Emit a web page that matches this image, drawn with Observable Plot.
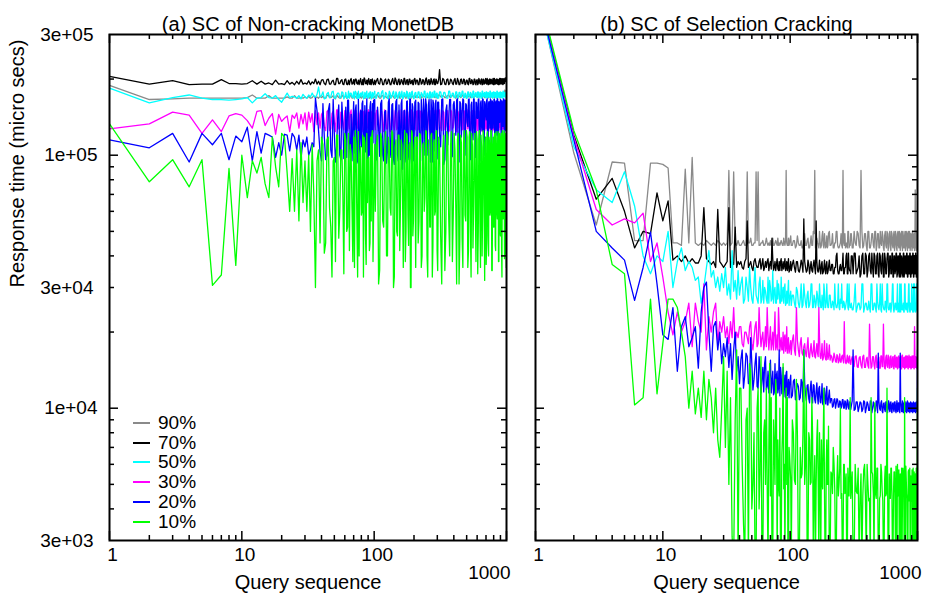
<!DOCTYPE html>
<html><head><meta charset="utf-8">
<script src="https://cdn.jsdelivr.net/npm/d3@7"></script>
<script src="https://cdn.jsdelivr.net/npm/@observablehq/plot@0.6"></script>
<style>
html,body{margin:0;padding:0;background:#fff;}
#wrap{position:relative;width:925px;height:600px;font-family:"Liberation Sans",Arial,Helvetica,sans-serif;background:#fff;}
#wrap svg{position:absolute;top:0;}
.lg{position:absolute;font-size:19px;line-height:20px;color:#000;white-space:nowrap;}
.ls{position:absolute;width:17px;height:2px;}
</style></head><body><div id="wrap"></div>
<script>
// Query sequence numbers (x) shared by every series
const queries = [
  1,2,3,4,5,6,7,8,9,10,
  11,12,13,14,15,16,17,18,19,20,
  21,22,23,24,25,26,27,28,29,30,
  31,32,33,34,35,36,37,38,39,40,
  42,44,46,48,50,52,54,56,58,60,
  63,66,69,72,75,78,81,84,87,90,
  93,96,99,104,108,112,116,120,124,128,
  132,136,140,144,148,152,156,160,164,168,
  172,176,180,184,188,192,196,200,206,212,
  218,224,230,236,242,248,254,260,266,272,
  278,284,290,296,302,312,324,336,348,360,
  372,384,396,408,420,432,444,456,468,480,
  492,504,516,528,540,552,564,576,588,600,
  612,624,636,648,660,672,684,696,708,720,
  732,744,756,768,780,792,804,816,828,840,
  852,864,876,888,900,912,924,936,948,960,
  972,984,996,1000
];
// Extra query numbers read in the dense late part of each run
const fillQueries = [
  209,215,221,227,233,239,245,251,257,263,
  269,275,281,287,293,299,307,318,330,342,
  354,366,378,390,402,414,426,438,450,462,
  474,486,498,510,522,534,546,558,570,582,
  594,606,618,630,642,654,666,678,690,702,
  714,726,738,750,762,774,786,798,810,822,
  834,846,858,870,882,894,906,918,930,942,
  954,966,978,990
];
// Extra query numbers read in the middle part of each run
const fill2Queries = [
  41,43,45,47,49,51,53,55,57,59,
  61,62,64,65,67,68,70,71,73,74,
  76,77,79,80,82,83,85,86,88,89,
  91,92,94,95,97,98,101,102,106,110,
  114,118,122,126,130,134,138,142,146,150,
  154,158,162,166,170,174,178,182,186,190,
  194,198,203
];

// (a) Non-cracking MonetDB — response time in thousands of micro secs
const a90 = [
  189,166,167,168,168,168,168,168,168,168,
  169,173,168,168,168,172,168,168,168,168,
  168,170,168,168,172,168,168,169,168,170,
  168,171,168,169,172,168,170,168,171,169,
  168,172,169,170,168,173,169,168,171,170,
  169,172,168,170,176,169,170,168,172,170,
  169,171,168,173,170,168,172,170,169,171,
  168,172,170,169,173,170,168,171,170,172,
  169,171,170,173,169,171,170,172,169,171,
  170,173,169,171,170,172,169,171,170,173,
  170,172,169,171,170,173,170,171,169,172,
  170,171,173,170,172,169,171,170,173,170,
  171,172,170,173,169,171,170,172,171,170,
  172,170,171,173,170,172,169,171,170,172,
  171,170,173,172,170,171,172,170,173,171,
  170,172,171,173,170,172,171,170,174,172,
  181,172,176,178
];
const a90fill = [
  172,169,171,168,173,170,172,169,171,168,
  173,170,172,169,171,168,173,170,172,169,
  171,173,169,172,170,168,173,171,169,172,
  170,173,168,171,172,169,173,170,168,172,
  171,169,173,170,172,168,171,173,169,172,
  170,168,173,171,169,172,170,173,168,171,
  172,169,173,170,171,168,172,170,175,173,
  171,178,174,180
];
const a90mid = [
  171,168,173,169,172,167,171,168,173,169,
  172,168,171,169,173,168,172,169,171,168,
  173,169,172,168,171,169,173,168,172,169,
  171,168,173,169,172,168,171,169,173,168,
  172,169,171,168,173,169,172,168,171,169,
  173,168,172,169,171,168,173,169,172,168,
  171,169,172
];
const a70 = [
  205,191,197,190,191,191,199,192,192,191,
  192,197,191,196,191,193,190,198,191,192,
  190,197,191,194,190,196,191,199,191,193,
  191,197,190,195,192,200,191,196,190,198,
  192,199,191,196,190,201,192,197,191,199,
  190,198,192,200,191,197,190,202,192,198,
  191,199,190,197,192,201,190,198,191,200,
  190,197,192,202,191,198,190,199,192,201,
  191,198,190,200,192,197,190,199,191,198,
  190,200,192,198,191,202,190,199,192,197,
  191,200,190,198,192,218,191,199,190,200,
  192,198,190,201,191,197,190,200,192,199,
  191,198,190,201,192,197,191,200,190,199,
  192,198,191,200,190,199,192,201,191,198,
  190,200,192,199,191,201,190,198,192,200,
  191,199,190,201,192,198,191,200,193,199,
  195,201,197,203
];
const a70fill = [
  198,190,201,191,199,190,200,192,198,190,
  201,191,199,190,200,192,198,190,201,191,
  199,190,200,192,198,191,201,190,199,192,
  200,190,198,191,201,192,199,190,200,191,
  198,190,201,192,199,190,200,191,198,192,
  201,190,199,191,200,192,198,190,201,191,
  199,192,200,190,198,191,201,192,199,190,
  200,192,202,196
];
const a70mid = [
  199,190,200,191,198,190,201,192,199,190,
  200,191,198,190,201,191,199,190,200,192,
  198,190,201,191,199,190,200,192,198,190,
  201,191,199,190,200,192,198,190,201,191,
  199,190,200,192,198,190,201,191,199,190,
  200,192,198,190,201,191,199,190,200,192,
  198,190,201
];
const a50 = [
  184,161,169,173,168,166,166,165,166,167,
  169,161,168,169,175,169,168,172,166,162,
  169,176,169,171,170,168,172,167,174,170,
  168,173,170,176,171,169,174,186,170,172,
  167,175,169,178,168,173,176,169,177,170,
  168,176,169,179,167,173,177,169,175,168,
  178,169,174,168,177,170,180,169,175,167,
  176,170,179,168,175,169,178,172,167,177,
  170,179,168,176,169,178,172,167,177,169,
  178,168,175,170,179,169,176,168,178,171,
  169,179,170,176,168,178,169,177,171,168,
  179,170,176,169,178,168,177,171,179,169,
  175,168,178,170,176,169,179,171,177,169,
  178,170,176,168,179,171,177,169,178,170,
  176,169,179,171,177,169,178,170,176,168,
  179,171,177,169,178,170,176,169,179,172,
  177,171,178,174
];
const a50fill = [
  169,178,168,177,170,179,168,176,169,178,
  168,177,170,179,169,176,168,178,170,177,
  168,179,170,176,169,178,168,177,170,179,
  169,176,168,178,170,177,169,179,168,176,
  170,178,169,177,168,179,170,176,169,178,
  168,177,170,179,169,176,168,178,170,177,
  169,179,168,176,170,178,169,177,168,179,
  170,176,169,178
];
const a50mid = [
  178,168,177,170,179,168,176,169,178,167,
  177,169,179,168,176,170,178,167,177,169,
  179,168,176,170,178,167,177,169,179,168,
  176,170,178,167,177,169,179,168,176,170,
  178,167,177,169,179,168,176,170,178,167,
  177,169,179,168,176,170,178,167,177,169,
  179,168,176
];
const a30 = [
  127,133,148,144,122,138,124,143,146,144,
  137,128,149,150,131,140,146,121,145,136,
  140,143,124,144,140,147,128,145,133,147,
  126,148,135,146,124,150,132,147,128,145,
  130,149,125,146,136,151,127,148,133,150,
  125,147,131,150,128,146,124,149,135,151,
  126,148,130,150,125,147,133,151,127,149,
  124,148,131,150,126,147,129,151,125,149,
  132,150,127,148,124,151,130,147,126,150,
  128,149,125,151,131,148,126,150,129,147,
  124,150,132,149,127,151,125,148,130,150,
  126,149,129,151,124,148,131,150,127,149,
  125,151,130,148,126,150,128,149,124,151,
  131,148,126,150,129,149,125,151,130,148,
  127,150,124,149,131,151,126,148,129,150,
  125,149,130,151,127,148,126,150,131,149,
  128,150,133,147
];
const a30fill = [
  149,126,150,128,147,125,151,127,148,124,
  150,129,147,126,151,125,149,128,150,126,
  148,124,151,127,149,125,150,128,147,126,
  151,124,149,127,150,125,148,129,151,126,
  147,125,150,128,149,124,151,126,148,127,
  150,125,149,128,151,124,147,126,150,127,
  149,125,151,128,148,126,150,124,149,127,
  151,126,148,130
];
const a30mid = [
  148,125,150,127,149,124,151,128,147,126,
  150,125,148,127,151,124,149,126,150,128,
  147,125,151,127,149,124,150,126,148,128,
  151,125,149,127,150,124,147,126,151,128,
  149,124,150,127,148,125,151,126,149,128,
  150,124,148,127,151,125,149,126,150,128,
  147,125,151
];
const a20 = [
  115,107,122,94,122,110,122,96,119,113,
  129,95,124,102,122,120,118,98,112,100,
  121,120,104,122,118,105,120,97,115,108,
  118,100,105,112,108,168,150,125,103,95,
  118,100,160,98,122,108,158,96,135,112,
  165,98,128,150,95,118,160,102,140,92,
  155,110,165,96,130,160,100,148,93,162,
  105,158,97,140,166,95,125,160,88,150,
  100,163,96,138,166,92,155,110,165,98,
  160,95,145,167,100,158,130,166,94,150,
  165,104,160,96,162,120,166,92,150,110,
  166,98,158,140,165,95,163,118,167,100,
  160,135,166,96,158,125,167,102,162,140,
  166,97,160,130,167,110,163,145,165,98,
  161,138,167,100,164,128,166,96,162,142,
  167,104,163,135,166,99,164,150,167,120,
  165,130,167,140
];
const a20fill = [
  98,162,110,166,95,150,167,100,158,125,
  166,94,160,135,165,97,162,108,167,96,
  158,140,166,99,163,120,167,94,160,145,
  165,100,158,130,167,96,162,115,166,98,
  161,140,167,95,164,125,166,100,160,138,
  167,97,163,128,165,104,161,142,166,96,
  164,120,167,99,162,136,165,102,160,130,
  167,108,163,125
];
const a20mid = [
  160,96,150,105,166,94,140,100,162,97,
  155,98,165,110,145,95,163,102,158,93,
  166,99,150,108,164,95,157,103,167,96,
  148,100,163,94,160,112,166,97,155,99,
  165,95,150,104,167,98,160,92,163,101,
  158,96,166,110,150,94,164,100,167,97,
  160,95,162
];
const a10 = [
  133,78.5,96,75,96,30.6,33.6,88.6,36.7,100,
  68,95,85,98,77,68,118,90,75,122,
  118,85,60,97,60,105,55,112,65,95,
  60,100,50,110,70,30,95,105,45,118,
  41,115,62,33,98,120,47,105,70,122,
  52,110,38,125,33,100,60,118,37,95,
  45,120,58,110,31,122,55,100,40,118,
  62,125,30,108,50,120,42,115,66,100,
  38,122,58,110,30,125,48,105,36,118,
  55,120,40,112,68,124,33,100,52,122,
  44,115,60,125,35,108,31,120,50,118,
  40,124,58,105,31,122,46,112,36,125,
  55,118,42,124,33,110,62,122,38,115,
  50,125,36,108,58,120,32,118,45,124,
  40,112,60,125,35,118,52,122,42,105,
  56,124,38,115,48,122,33,118,60,125,
  41,120,36,110
];
const a10fill = [
  118,45,122,36,110,60,125,40,115,52,
  120,33,112,58,124,42,118,48,106,35,
  124,56,110,38,122,62,115,31,120,47,
  112,58,125,36,118,50,122,43,108,60,
  124,34,116,55,120,40,125,62,112,37,
  122,48,118,58,125,35,110,52,120,44,
  124,60,115,38,122,50,118,42,125,56,
  116,39,122,58
];
const a10mid = [
  110,45,118,52,95,38,120,60,105,34,
  115,50,122,42,100,62,118,36,110,55,
  124,40,108,58,120,33,112,48,122,65,
  98,42,118,55,125,38,110,60,120,35,
  116,52,124,40,108,58,122,33,115,48,
  120,62,110,36,125,50,118,44,112,30,
  122,55,118
];

// (b) Selection Cracking — response time in thousands of micro secs
const b90 = [
  480,102,53,94,93,46,46,93,93,92,
  89,45,45,44,88,45,98,45,44,45,
  44,46,45,44,45,44,46,45,44,45,
  44,45,87,44,45,86,45,44,46,44,
  45,44,86,45,44,45,86,86,44,45,
  44,45,44,46,44,45,44,45,44,45,
  87,44,45,44,46,44,45,44,43,45,
  44,46,43,45,44,50,87,44,45,43,
  45,44,50,43,45,44,43,49,44,45,
  43,45,50,44,43,45,44,87,44,43,
  45,50,43,44,49,43,45,50,44,87,
  43,49,44,50,43,45,49,43,50,44,
  49,43,45,50,43,48,44,50,42,49,
  43,50,44,48,42,50,43,49,44,50,
  42,49,44,50,43,48,42,50,44,49,
  43,50,42,49,44,50,43,48,42,73,
  44,50,43,49
];
const b90fill = [
  44,49,43,45,50,43,44,49,43,45,
  49,44,43,50,44,49,43,50,44,49,
  43,50,44,49,42,50,43,49,44,50,
  42,49,43,50,44,48,42,50,43,49,
  44,50,42,49,43,50,44,48,42,50,
  43,49,44,50,42,48,43,50,44,49,
  42,50,43,49,44,48,42,50,43,49,
  44,50,42,49
];
const b90mid = [
  44,46,44,45,47,44,45,46,44,45,
  46,44,45,47,44,45,46,44,47,44,
  45,46,44,47,45,44,46,45,44,47,
  44,46,45,44,47,44,48,44,46,43,
  48,44,46,43,49,44,47,43,48,44,
  49,43,47,44,50,43,48,44,49,43,
  48,44,50
];
const b70 = [
  490,120,67,81,60,43,50,49,71,55,
  66,38.5,40,38,40,37.5,39,37.5,37.5,40,
  62,39,38,37,38,36,61,38,37,36,
  37,38,62,36,38,37,52,36,38,37,
  36,38,55,37,36,38,37,36,39,37,
  36,38,37,47,36,37,35,38,36,37,
  36,37,35,37,36,38,35,36,37,56,
  36,35,37,36,35,37,36,55,35,36,
  35,37,34,36,35,37,34,36,35,37,
  34,36,40,35,34,37,35,41,34,36,
  41,34,36,35,40,34,41,35,40,34,
  41,34,40,35,41,34,36,41,34,40,
  34,41,35,40,33,41,34,39,41,34,
  40,34,41,33,40,35,41,34,40,33,
  41,34,39,33,41,35,40,34,41,33,
  40,34,41,33,39,35,41,33,40,34,
  41,33,40,35
];
const b70fill = [
  35,37,34,36,41,34,36,35,37,34,
  36,40,34,41,35,34,40,41,34,36,
  33,40,34,41,33,40,35,41,33,40,
  34,41,33,40,34,41,33,39,34,41,
  33,40,34,41,33,40,34,41,33,40,
  34,41,33,40,34,41,33,40,34,41,
  33,40,34,41,33,40,34,41,33,40,
  34,41,33,40
];
const b70mid = [
  38,35.5,39,36,38,35,39,36,38,35.5,
  39,35,38,36,39,35,38,35.5,39,35,
  38,35,39,35.5,38,35,39,35,38,35.5,
  39,35,38,35,39,34.5,38,35,38.5,34.5,
  38,34.5,38.5,34.5,38,34.5,38.5,34,38,34.5,
  38.5,34,38,34.5,38.5,34,38,34.5,38.5,34,
  38,34.5,38.5
];
const b50 = [
  470,108,73,65,86,63,40,34,40,38,
  50,30,38,43,35,38,36,32,33,26,
  30,36,42,33,35,30,33,29,34,30,
  36,28,31,27,42,29,32,27,35,28,
  33,27,30,36,27,31,28,26,33,27,
  30,26,32,27,29,26,31,26,28,30,
  26,29,27,28,26,30,26,27,25,31,
  26,28,25,27,31,25,27,26,28,25,
  27,25,26,31,25,27,26,25,28,25,
  26,31,25,26,25,27,31,25,26,25,
  27,25,31,25,26,24.5,31,25,26,25,
  31,25,26,24.5,25,31,24.5,26,25,31,
  25,26,24.5,31,25,24.5,26,31,25,24.5,
  26,25,31,24.5,25,26,24.5,31,25,24,
  26,31,24.5,25,24,31,25,24.5,26,24,
  31,25,24,26,31,24.5,25,24,31,25,
  24.5,31,25,24
];
const b50fill = [
  25,26.5,24.5,26,25,31,24.5,26,25,26.5,
  24.5,26,31,24.5,26,25,24.5,26.5,24,26,
  24.5,31,24,26,24.5,26.5,24,31,24.5,26,
  24,26.5,24.5,31,24,26,24.5,26.5,24,31,
  24.5,26,24,26.5,31,24,26,24.5,26.5,24,
  26,31,24,26.5,24.5,26,24,31,24.5,26,
  24,26.5,31,24,26,24.5,26.5,24,31,24.5,
  26,24,26.5,24.5
];
const b50mid = [
  31,26,33,26.5,30,26,36,27,31,26,
  32,26,29,27,33,26,30,26.5,35,26,
  30,26,32,27,29,26,33,26.5,30,26,
  31,25.5,29,26,32,25.5,29,25.5,28,25,
  29,25,31,25.5,28,25,29,25.5,31,25,
  28,25,29,25.5,31,25,28,24.5,29,25,
  31,25,28
];
const b30 = [
  485,118,61,53,56,54,59,38,45,33,
  24,19.5,24,20,22,26,17.5,26,22,20,
  31,17,23,20,24,26,18,22,20,23,
  19,21,18,22,19,25,18,20,19,21,
  18,20,19,21,18,19,22,18,20,19,
  18,25,19,18,20,17.5,25,18,17,19,
  17.5,18,17,18.5,17,25,17,18,16.5,17.5,
  16.5,17.5,16,17,16.5,17,16,17,16.5,25,
  16,16.5,15.5,16.5,16,15.5,16.5,16,15.5,16,
  15.5,16,15.2,16,15.5,15.2,16,15.5,22,15.2,
  15.5,15.2,16,15,15.5,15.2,16,14.6,15.8,14.8,
  16,14.5,15.6,14.7,21.5,14.4,16,14.8,15.9,14.5,
  15.8,14.4,16.1,14.6,21.5,14.4,15.9,14.7,16.2,14.4,
  16,14.5,15.8,14.4,16.1,14.6,15.9,14.3,16,14.5,
  15.9,14.4,16.2,14.6,15.8,14.3,16,14.5,16.1,14.4,
  15.8,14.6,16,14.3,15.9,14.5,16.1,14.4,21,14.6,
  16,14.4,15.8,15.2
];
const b30fill = [
  16.2,15.2,16.5,15.3,16.3,15.1,16.4,15.2,16.2,15.1,
  16.3,15,16.2,15.1,16.1,14.9,16,14.6,16.1,14.5,
  16,14.4,16.2,14.5,15.9,14.4,16.1,14.6,16,14.3,
  16.2,14.5,15.9,14.4,16.1,14.6,16,14.3,16.2,14.5,
  15.9,14.4,16.1,14.6,16,14.3,16.2,14.5,15.9,14.4,
  16.1,14.6,16,14.3,16.2,14.5,15.9,14.4,16.1,14.6,
  16,14.3,16.2,14.5,15.9,14.4,16.1,14.6,16,14.3,
  16.2,14.5,15.9,14.4
];
const b30mid = [
  21,17.5,20,18,22,17,21,17.5,25,17.5,
  20,17,21,17.5,19.5,17,21,17,20,17,
  24,17,19.5,17,21,16.8,19,17,20,16.5,
  19.5,16.8,21,16.5,19,16.5,18.5,16.3,19.5,16.2,
  18.5,16,19,16.2,18,16,19,15.8,18,16,
  18.5,15.8,18,16,19,15.7,18,15.8,18.5,15.6,
  18,15.6,17.8
];
const b20 = [
  475,115,50,43,38.5,26.7,36,49.7,31,19.5,
  18.7,25,14,21,23,17.5,19,21,14.4,24,
  30,31.5,20,14,21,22,17,20,15,18,
  16,19,14.5,18,13,17,20,14,16,12.5,
  17,13.5,16,12.5,15,13,16.5,12,14.5,13,
  15,12.2,14,12.8,11.5,13.5,12,14.5,11.8,12.6,
  13.8,11.6,12.4,11.2,13,11.8,12.2,11,12.6,17,
  11.4,12.3,10.9,12,11.2,12.4,10.8,11.7,11.1,12,
  10.6,11.4,10.4,11.2,10.7,11.5,10.3,11,10.5,10.9,
  10.2,10.9,10.4,10.8,10.1,10.6,10.2,10.8,10,10.6,
  10.1,10.7,9.9,10.5,10.2,17,9.9,10.6,10.1,10.5,
  9.9,10.6,10,10.4,9.8,10.7,10,10.3,9.8,10.6,
  16.5,10,10.5,9.7,10.4,9.9,10.6,9.8,10.3,9.9,
  10.5,9.7,10.4,9.9,10.6,9.8,10.3,9.7,10.5,9.9,
  16.5,10.3,9.7,10.5,9.8,10.4,9.7,10.3,9.9,10.5,
  9.7,10.4,9.8,10.5,9.7,10.3,9.9,10.4,9.7,10.5,
  9.8,10.3,9.9,17
];
const b20fill = [
  10.9,10.1,10.8,10,10.9,10.1,10.7,10,10.8,10,
  10.7,9.9,10.8,10,10.6,9.9,10.7,9.8,10.6,9.7,
  10.6,9.7,10.7,9.6,10.6,9.8,10.7,9.6,10.6,9.7,
  10.7,9.6,10.6,9.8,10.7,9.6,10.5,9.7,10.6,9.6,
  10.7,9.7,10.6,9.6,10.5,9.7,10.6,9.6,10.7,9.7,
  10.5,9.6,10.6,9.7,10.7,9.6,10.5,9.7,10.6,9.6,
  10.7,9.7,10.5,9.6,10.6,9.7,10.5,9.6,10.6,9.7,
  10.5,9.6,10.6,9.7
];
const b20mid = [
  15.5,12,16.5,12.5,19,11.8,15,12.2,16,11.5,
  14.5,11.6,16,11.8,14,11.5,15.5,11.5,14,11.3,
  15,11.3,14,11.5,17,11.2,13.5,11.4,14.5,11.1,
  13.5,11,14,11.2,13,11,13.5,11,12.8,10.8,
  12.5,10.8,13,10.6,12.6,10.7,12.4,10.5,12.8,10.5,
  12.3,10.5,12.6,10.4,12.2,10.5,12.5,10.3,12,10.4,
  12.2,10.3,11.8
];
const b10 = [
  495,125,73,37,34,10.3,11,27,11.4,18,
  27,27,25,20,16,10,14,9.5,12,9.2,
  14,9,13,11,8,12,7.5,6.4,10,16,
  7,14,5,11,3.1,2.5,9,17,2.5,12,
  6,2.5,10,15,4,8,2.5,12,5.5,2.5,
  9,5,15,2.5,7,11,5,2.5,8,6,
  12,2.5,6.5,9,5.2,13,2.5,7,5.5,17,
  6,2.5,8,5,11,2.5,6.5,5,9,2.5,
  5.5,7.5,4.8,12,2.5,6,5,8.5,2.5,5.5,
  7,4.8,2.5,6.5,5,10,4.6,2.5,6,5,
  2.5,5.8,4.5,11,4.8,2.5,6,4.6,2.5,5.5,
  4.5,6,2.5,5,4.4,11,5.5,2.5,4.6,5.8,
  2.5,4.4,6,4.7,2.5,5.2,4.5,12,2.5,5.5,
  4.4,5.8,2.5,4.6,5.6,2.5,4.5,6,4.8,2.5,
  5.5,4.3,2.5,5.8,4.6,11,2.5,5.2,4.4,2.5,
  5.7,4.5,2.5,5.4,4.3,2.5,5.8,4.6,2.5,5.5,
  4.4,2.5,5.6,12
];
const b10fill = [
  5.6,4.6,6,2.5,5.2,4.5,5.8,4.4,2.5,6,
  4.6,5.5,2.5,4.5,5.9,4.4,5.6,2.5,4.7,5.8,
  4.4,2.5,5.7,4.5,6,4.3,2.5,5.6,4.6,10.5,
  4.4,5.8,2.5,4.5,5.6,4.3,2.5,5.9,4.6,5.4,
  2.5,4.4,5.8,4.5,2.5,5.6,4.3,5.9,2.5,4.5,
  5.7,4.4,2.5,5.8,4.5,5.5,2.5,4.4,5.9,4.6,
  2.5,5.6,4.3,5.8,2.5,4.5,5.7,4.4,2.5,5.6,
  4.5,2.5,5.8,4.4
];
const b10mid = [
  12,3.5,9,2.5,14,5,2.5,10,4,16,
  2.5,8,5,12,2.5,7,4.5,11,2.5,9,
  5,13,2.5,7.5,4.5,10,2.5,6.5,15,4.8,
  2.5,8,5,11,2.5,7,5.2,2.5,8,5,
  7.8,2.5,5.3,8,5,12,2.5,7.5,5.1,7.8,
  4.9,2.5,7.6,5,8,2.5,5.2,7.8,4.8,2.5,
  7.5,5,2.5
];

const seriesLabels = ["90%", "70%", "50%", "30%", "20%", "10%"];
const seriesColors = ["#8a8a8a", "#000000", "#00ffff", "#ff00ff", "#0000ff", "#00ff00"];
const panelA = [[a90, a90fill, a90mid], [a70, a70fill, a70mid], [a50, a50fill, a50mid], [a30, a30fill, a30mid], [a20, a20fill, a20mid], [a10, a10fill, a10mid]];
const panelB = [[b90, b90fill, b90mid], [b70, b70fill, b70mid], [b50, b50fill, b50mid], [b30, b30fill, b30mid], [b20, b20fill, b20mid], [b10, b10fill, b10mid]];

const yLabelOnes = [10000, 100000];
const yLabelThrees = [3000, 30000, 300000];
const yMajor = [10000, 100000];
const yMinor = [4000,5000,6000,7000,8000,9000,20000,30000,40000,50000,60000,70000,80000,90000,200000];
const xLabelTicks = [1, 10, 100];
const xMajor = [1, 10, 100, 1000];
const xMinor = [2,3,4,5,6,7,8,9,20,30,40,50,60,70,80,90,200,300,400,500,600,700,800,900];

const FONT = "'Liberation Sans', Arial, Helvetica, sans-serif";
const FS = 19, FT = 20;

function fmtExp(d) {
  const e = Math.floor(Math.log10(d) + 1e-9);
  const m = Math.round(d / Math.pow(10, e));
  return m + "e+" + String(e).padStart(2, "0");
}

function buildRows(main, fill, mid) {
  const rows = [];
  const add = (qs, vs, name) => {
    if (qs.length !== vs.length) console.warn("length mismatch", name, qs.length, vs.length);
    const n = Math.min(qs.length, vs.length);
    for (let i = 0; i < n; i++) rows.push({q: qs[i], v: vs[i] * 1000});
  };
  add(queries, main, "main");
  add(fillQueries, fill, "fill");
  add(fill2Queries, mid, "mid");
  rows.sort((a, b) => a.q - b.q);
  return rows;
}

function panel({width, mL, mR, title, data, yAxisLabels}) {
  const H = 600, mT = 34, mB = 60;
  const ih = H - mT - mB, iw = width - mL - mR;
  const marks = [];
  data.forEach(([main, fill, mid], k) => {
    marks.push(Plot.line(buildRows(main, fill, mid), {x: "q", y: "v", stroke: seriesColors[k], strokeWidth: 1.3, clip: true}));
  });
  marks.push(Plot.frame({stroke: "#000", strokeWidth: 2}));
  const tk = {stroke: "#000", strokeWidth: 1.5};
  marks.push(Plot.ruleX(xMajor, {x: d => d, insetTop: ih - 9, ...tk}));
  marks.push(Plot.ruleX(xMajor, {x: d => d, insetBottom: ih - 9, ...tk}));
  marks.push(Plot.ruleX(xMinor, {x: d => d, insetTop: ih - 5, ...tk}));
  marks.push(Plot.ruleX(xMinor, {x: d => d, insetBottom: ih - 5, ...tk}));
  marks.push(Plot.ruleY(yMajor, {y: d => d, insetRight: iw - 9, ...tk}));
  marks.push(Plot.ruleY(yMajor, {y: d => d, insetLeft: iw - 9, ...tk}));
  marks.push(Plot.ruleY(yMinor, {y: d => d, insetRight: iw - 5, ...tk}));
  marks.push(Plot.ruleY(yMinor, {y: d => d, insetLeft: iw - 5, ...tk}));
  if (yAxisLabels) {
    marks.push(Plot.text(yLabelOnes, {y: d => d, frameAnchor: "left", textAnchor: "end", dx: -12, text: d => fmtExp(d), fontSize: FS, fill: "#000"}));
    marks.push(Plot.text(yLabelThrees, {y: d => d, frameAnchor: "left", textAnchor: "end", dx: -16, text: d => fmtExp(d), fontSize: FS, fill: "#000"}));
    marks.push(Plot.text(["Response time (micro secs)"], {frameAnchor: "left", dx: -92, rotate: -90, text: d => d, fontSize: FT, fill: "#000"}));
  }
  marks.push(Plot.text(xLabelTicks, {x: d => d, frameAnchor: "bottom", dx: 3, dy: 20, text: d => String(d), fontSize: FS, fill: "#000"}));
  marks.push(Plot.text([1000], {x: d => d, frameAnchor: "bottom", textAnchor: "end", dx: 4, dy: 38, text: d => String(d), fontSize: FS, fill: "#000"}));
  marks.push(Plot.text([title], {frameAnchor: "top", dy: -18, text: d => d, fontSize: FT, fill: "#000"}));
  marks.push(Plot.text(["Query sequence"], {frameAnchor: "bottom", dy: 48, text: d => d, fontSize: FT, fill: "#000"}));
  return Plot.plot({
    width, height: H,
    marginTop: mT, marginBottom: mB, marginLeft: mL, marginRight: mR,
    x: {type: "log", domain: [1, 1000], axis: null},
    y: {type: "log", domain: [3000, 300000], axis: null},
    style: {fontFamily: FONT, fontSize: FS + "px", background: "transparent", color: "#000", overflow: "visible"},
    marks
  });
}

const wrap = document.getElementById("wrap");
const svgA = panel({width: 520, mL: 109, mR: 14, title: "(a) SC of Non-cracking MonetDB", data: panelA, yAxisLabels: true});
svgA.style.left = "0px";
wrap.appendChild(svgA);
const svgB = panel({width: 405, mL: 15, mR: 8, title: "(b) SC of Selection Cracking", data: panelB, yAxisLabels: false});
svgB.style.left = "520px";
wrap.appendChild(svgB);

// legend (inside panel a, lower-left)
seriesLabels.forEach((lab, i) => {
  const cy = Math.round(423 + i * 19.7);
  const ln = document.createElement("div");
  ln.className = "ls";
  ln.style.left = "133px";
  ln.style.top = (cy - 1) + "px";
  ln.style.background = seriesColors[i];
  wrap.appendChild(ln);
  const tx = document.createElement("div");
  tx.className = "lg";
  tx.style.left = "158px";
  tx.style.top = (cy - 10) + "px";
  tx.textContent = lab;
  wrap.appendChild(tx);
});
</script></body></html>
